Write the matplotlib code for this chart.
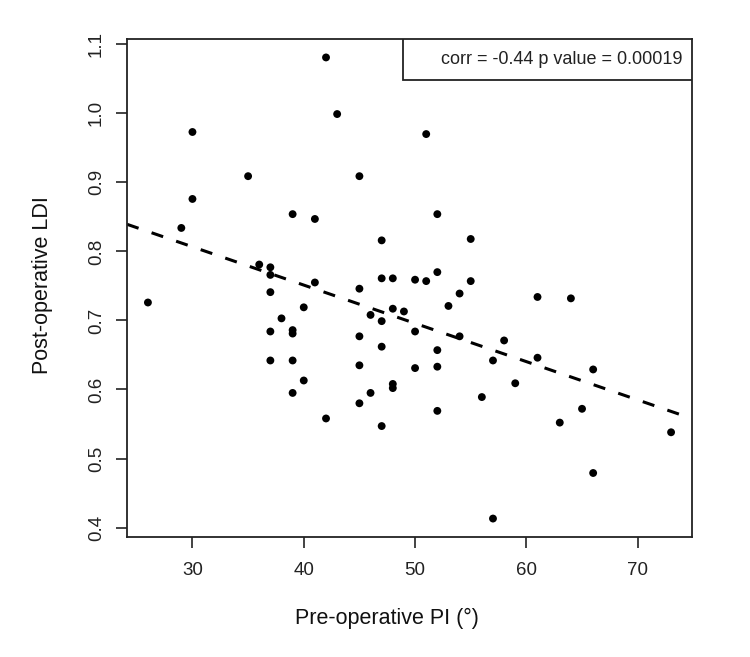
import numpy as np
import matplotlib.pyplot as plt
from matplotlib.patches import Rectangle

plt.rcParams['font.family'] = ['Liberation Sans', 'DejaVu Sans']

# Pre-operative PI (deg) and post-operative LDI
pre_pi = [42, 43, 30, 35, 45, 30, 39, 41, 29, 47,
          36, 37, 37, 41, 47, 48, 45, 51, 52, 55,
          50, 51, 52, 55, 26, 37, 38, 40, 37, 39,
          39, 46, 47, 48, 45, 47, 37, 39, 40, 39,
          45, 46, 48, 48, 45, 42, 47, 54, 53, 61,
          64, 49, 50, 54, 52, 58, 57, 61, 66, 50,
          52, 59, 56, 52, 65, 63, 73, 66, 57]
post_ldi = [1.081, 0.999, 0.973, 0.909, 0.909, 0.876, 0.854, 0.847, 0.834, 0.816,
            0.781, 0.777, 0.766, 0.755, 0.761, 0.761, 0.746, 0.970, 0.854, 0.818,
            0.759, 0.757, 0.770, 0.757, 0.726, 0.741, 0.703, 0.719, 0.684, 0.686,
            0.681, 0.708, 0.699, 0.717, 0.677, 0.662, 0.642, 0.642, 0.613, 0.595,
            0.635, 0.595, 0.608, 0.602, 0.580, 0.558, 0.547, 0.739, 0.721, 0.734,
            0.732, 0.713, 0.684, 0.677, 0.657, 0.671, 0.642, 0.646, 0.629, 0.631,
            0.633, 0.609, 0.589, 0.569, 0.572, 0.552, 0.538, 0.479, 0.413]

x_ticks = [30, 40, 50, 60, 70]
y_ticks = [0.4, 0.5, 0.6, 0.7, 0.8, 0.9, 1.0, 1.1]
stat_label = "corr = -0.44 p value = 0.00019"

x = np.array(pre_pi, dtype=float)
y = np.array(post_ldi)

fig = plt.figure(figsize=(7.5, 6.57), dpi=100)
ax = fig.add_axes([127 / 750, 1 - 537 / 657, 565 / 750, 498 / 657])

ax.scatter(x, y, s=32, color='black', edgecolors='none', zorder=3)

# least squares line across the whole panel (R abline style)
slope, intercept = np.polyfit(x, y, 1)
xr = x.max() - x.min()
yr = y.max() - y.min()
xlim = (x.min() - 0.04 * xr, x.max() + 0.04 * xr)
ylim = (y.min() - 0.04 * yr, y.max() + 0.04 * yr)
xs = np.array(xlim)
ax.plot(xs, intercept + slope * xs, color='black', lw=2.2,
        linestyle=(0, (4, 4.5)), zorder=2)

ax.set_xlim(xlim)
ax.set_ylim(ylim)
ax.set_xticks(x_ticks)
ax.set_yticks(y_ticks)
ax.set_yticklabels([f"{v:.1f}" for v in y_ticks], rotation=90, va='center')
ax.tick_params(length=8, width=1.2, labelsize=13.5, colors='#222222', pad=10)
ax.tick_params(axis='y', pad=8)
for sp in ax.spines.values():
    sp.set_linewidth(1.3)
    sp.set_color('#222222')

# axis titles placed like in the original (x title sits left of centre)
fig.text(387 / 750, 1 - 618 / 657, "Pre-operative PI (°)", fontsize=15.5,
         ha='center', va='center', color='#111111')
fig.text(43 / 750, 1 - 285 / 657, "Post-operative LDI", fontsize=15.5,
         rotation=90, ha='center', va='center', color='#111111')

# statistics box in the top right corner
bx0 = (403 - 127) / 565
by0 = (537 - 80) / 498
ax.add_patch(Rectangle((bx0, by0), 1 - bx0, 1 - by0, transform=ax.transAxes,
                       facecolor='white', edgecolor='#222222', lw=1.3, zorder=4))
ax.text(0.984, (by0 + 1) / 2, stat_label, transform=ax.transAxes,
        ha='right', va='center', fontsize=13, color='#222222', zorder=5)

fig.savefig("out.png", dpi=100)
